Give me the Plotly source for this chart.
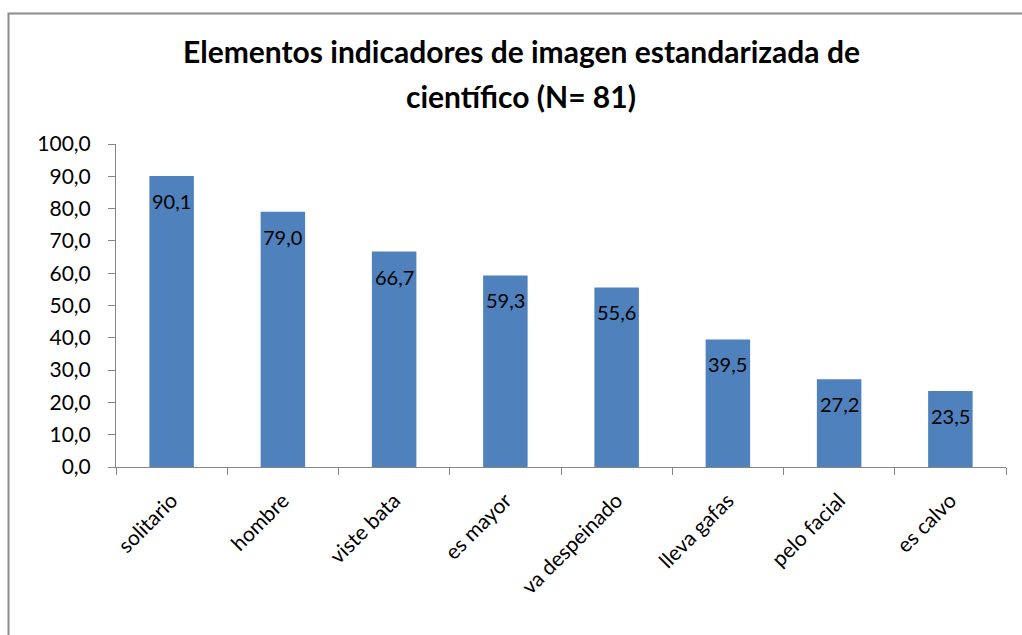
import plotly.graph_objects as go

categories = ["solitario", "hombre", "viste bata", "es mayor", "va despeinado",
              "lleva gafas", "pelo facial", "es calvo"]
values = [90.1, 79.0, 66.7, 59.3, 55.6, 39.5, 27.2, 23.5]
y_ticks = [0, 10, 20, 30, 40, 50, 60, 70, 80, 90, 100]
title_lines = ["Elementos indicadores de imagen estandarizada de",
               "científico (N= 81)"]

FONT = "Lato, Carlito, Calibri, sans-serif"
AXIS = "#868686"

def fmt(v):
    return f"{v:.1f}".replace(".", ",")

fig = go.Figure()
fig.add_trace(go.Bar(
    x=categories, y=values,
    marker=dict(color="#4F81BD", line=dict(width=0)),
    hoverinfo="skip",
))

for c, v in zip(categories, values):
    fig.add_annotation(x=c, y=v, text=fmt(v), showarrow=False, yshift=-25,
                       font=dict(family=FONT, size=20, color="#000000"))

W, H = 1022, 635
L, R, T, B = 116, 16, 144, 168
pw, ph = W - L - R, H - T - B

def px_x(p):
    return (p - L) / pw

def px_y(p):
    return (H - B - p) / ph

fig.add_shape(type="rect", xref="paper", yref="paper",
              x0=px_x(8.5), x1=px_x(1040), y0=px_y(660), y1=px_y(13.5),
              line=dict(color="#8C8C8C", width=2), fillcolor="rgba(0,0,0,0)",
              layer="below")

for line, ypx in zip(title_lines, [51, 96]):
    fig.add_annotation(text=f"<b>{line}</b>", xref="paper", yref="paper",
                       x=px_x(521), y=px_y(ypx), xanchor="center", yanchor="middle",
                       showarrow=False,
                       font=dict(family=FONT, size=30, color="#000000"))

fig.update_layout(
    width=W, height=H,
    margin=dict(l=L, r=R, t=T, b=B, autoexpand=False),
    paper_bgcolor="white", plot_bgcolor="white",
    separators=",.",
    bargap=0.6,
    showlegend=False,
    font=dict(family=FONT, size=21, color="#000000"),
    xaxis=dict(
        range=[-0.5, 7.5], showline=True, linecolor=AXIS, linewidth=1,
        ticks="outside", tickson="boundaries", ticklen=7, tickcolor=AXIS,
        tickangle=-45, showgrid=False, zeroline=False, automargin=False,
        ticklabelstandoff=12,
        tickfont=dict(family=FONT, size=21, color="#000000"),
    ),
    yaxis=dict(
        range=[0, 100], tickvals=y_ticks, tickformat=".1f",
        showline=True, linecolor=AXIS, linewidth=1, automargin=False,
        ticks="outside", ticklen=7, tickcolor=AXIS, showgrid=False, zeroline=False,
        ticklabelstandoff=13,
        tickfont=dict(family=FONT, size=21, color="#000000"),
    ),
)

fig.write_html("out.html", config={"displayModeBar": False},
               post_script="document.body.style.margin='0';document.body.style.overflow='hidden';")
